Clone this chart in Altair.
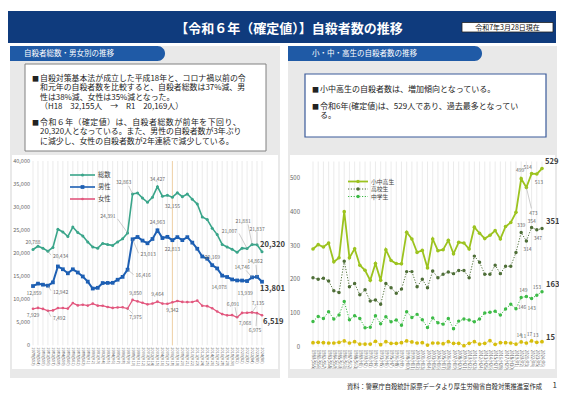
import altair as alt
import pandas as pd

FONT = "Noto Sans CJK JP"
W, H = 551, 382

# ---------------- data (left: 自殺者総数・男女別) ----------------
years_all = list(range(1978, 2025))
total = [20788, 21503, 21048, 20434, 21228, 25202, 24596, 23599, 25667, 24460,
         23742, 22436, 21346, 21084, 22104, 21851, 21679, 22445, 23104, 24391,
         32863, 33048, 31957, 31042, 32143, 34427, 32325, 32552, 32155, 33093,
         32249, 32845, 31690, 30651, 27858, 27283, 25427, 24025, 21897, 21321,
         20840, 20169, 21081, 21007, 21881, 21837, 20320]
male = [12859, 13386, 13155, 12942, 13654, 17116, 16508, 15624, 16497, 15802,
        14934, 13818, 12316, 12477, 13516, 13540, 13560, 14231, 14853, 16416,
        23013, 23512, 22727, 22144, 23080, 24963, 23272, 23540, 22813, 23478,
        22831, 23472, 22283, 20955, 19273, 18787, 17386, 16681, 15121, 14826,
        14290, 14078, 14055, 13939, 14746, 14862, 13801]
female = [7929, 8117, 7893, 7492, 7574, 8086, 8088, 7975, 9170, 8658,
          8808, 8618, 9030, 8607, 8588, 8311, 8119, 8214, 8251, 7975,
          9850, 9536, 9230, 8898, 9063, 9464, 9053, 9012, 9342, 9615,
          9418, 9373, 9407, 9696, 8585, 8496, 8041, 7344, 6776, 6495,
          6550, 6091, 7026, 7068, 7135, 6975, 6519]
yticks_left = [0, 5000, 10000, 15000, 20000, 25000, 30000, 35000, 40000]

# ---------------- data (right: 小・中・高生) ----------------
years_stu = list(range(1980, 2025))
stu_total = [290, 303, 296, 308, 252, 264, 401, 264, 291, 242,
             227, 197, 247, 197, 288, 256, 247, 246, 340, 320,
             280, 286, 234, 320, 285, 288, 316, 276, 310, 308,
             290, 355, 337, 321, 331, 345, 320, 357, 369, 399,
             499, 473, 514, 513, 529]
stu_high = [205, 200, 203, 195, 166, 161, 254, 178, 188, 154,
            169, 136, 139, 126, 188, 175, 159, 171, 223, 223,
            178, 200, 175, 225, 205, 215, 222, 217, 226, 226,
            205, 269, 251, 215, 215, 242, 217, 239, 239, 280,
            339, 314, 354, 347, 351]
stu_middle = [75, 90, 84, 104, 82, 94, 134, 80, 92, 84,
              56, 58, 92, 68, 89, 74, 79, 64, 104, 87,
              96, 80, 57, 85, 71, 67, 84, 53, 76, 82,
              79, 74, 82, 100, 102, 105, 94, 112, 126, 113,
              146, 149, 143, 153, 163]
stu_elem = [12, 13, 12, 11, 11, 13, 17, 11, 15, 8,
            8, 8, 16, 6, 15, 10, 10, 12, 17, 14,
            11, 12, 5, 11, 11, 9, 15, 10, 10, 3,
            10, 15, 8, 10, 18, 7, 12, 12, 11, 8,
            14, 11, 17, 13, 15]
yticks_right = [0, 100, 200, 300, 400, 500]


def era_label(y):
    if y < 1989:
        return f"{y}(S{y - 1925})"
    if y < 2019:
        return f"{y}(H{y - 1988})"
    return f"{y}(R{y - 2018})"


xlabels_all = [era_label(y) for y in years_all]
xlabels_stu = [era_label(y) for y in years_stu]

left_series = ["総数", "男性", "女性"]
right_series = ["小中高生", "高校生", "中学生", "小学生"]

dfL = pd.DataFrame({
    "year": years_all * 3,
    "series": sum([[s] * len(years_all) for s in left_series], []),
    "value": total + male + female,
})
dfR = pd.DataFrame({
    "year": years_stu * 4,
    "series": sum([[s] * len(years_stu) for s in right_series], []),
    "value": stu_total + stu_high + stu_middle + stu_elem,
})

dummy = pd.DataFrame({"d": [0]})


def rect(x1, y1, x2, y2, **kw):
    return alt.Chart(dummy).mark_rect(**kw).encode(
        x=alt.value(x1), x2=alt.value(x2), y=alt.value(y1), y2=alt.value(y2))


def txt(x, y, s, size=8, color="#222", weight="normal", align="left", baseline="middle"):
    return alt.Chart(dummy).mark_text(
        text=s, font=FONT, fontSize=size, color=color, fontWeight=weight,
        align=align, baseline=baseline).encode(x=alt.value(x), y=alt.value(y))


def hline(x1, x2, y, color, width=1.0, dash=None):
    kw = dict(color=color, strokeWidth=width)
    if dash:
        kw["strokeDash"] = dash
    return alt.Chart(dummy).mark_rule(**kw).encode(
        x=alt.value(x1), x2=alt.value(x2), y=alt.value(y))


def dot(x, y, color, size, shape="circle"):
    return alt.Chart(dummy).mark_point(
        filled=True, color=color, size=size, shape=shape, opacity=1).encode(
        x=alt.value(x), y=alt.value(y))


def chart_group(df, years, xlabels, yticks, xs, ys, styles, annots, ytop, ybot,
                lab_size, lab_pad, ylab_x, ylab_size, hl=None):
    def X():
        return alt.X("year:Q", scale=xs, axis=None)

    def Y(field="value"):
        return alt.Y(f"{field}:Q", scale=ys, axis=None)

    layers = []
    gdf = pd.DataFrame({"year": years, "label": xlabels})
    # vertical grid lines at every year
    layers.append(alt.Chart(gdf).mark_rule(color="#e3e3e3", strokeWidth=0.7).encode(
        x=X(), y=alt.value(ytop), y2=alt.value(ybot)))
    # x tick labels (vertical text)
    layers.append(alt.Chart(gdf).mark_text(
        angle=90, align="left", baseline="middle", font=FONT, fontSize=lab_size,
        color="#666").encode(x=X(), y=alt.value(ybot + lab_pad), text="label:N"))
    # y tick labels
    tdf = pd.DataFrame({"value": yticks})
    layers.append(alt.Chart(tdf).mark_text(
        align="right", baseline="middle", font=FONT, fontSize=ylab_size, color="#666").encode(
        x=alt.value(ylab_x), y=Y(), text=alt.Text("value:Q", format=",")))
    if hl is not None:
        layers.append(alt.Chart(gdf).transform_filter(f"datum.year == {hl}").mark_rule(
            color="#f1d3a8", strokeWidth=1).encode(x=X(), y=alt.value(ytop), y2=alt.value(ybot)))
    for st in styles:
        base = alt.Chart(df).transform_filter(f"datum.series == '{st['series']}'")
        lkw = dict(color=st["color"], strokeWidth=st["width"])
        if st.get("dash"):
            lkw["strokeDash"] = st["dash"]
        layers.append(base.mark_line(**lkw).encode(x=X(), y=Y()))
        layers.append(base.mark_point(filled=True, opacity=1, color=st["color"],
                                      shape=st["shape"], size=st["size"]).encode(x=X(), y=Y()))
    for a in annots:
        series, year, dx, dy, align, lead, big = a
        base = alt.Chart(df).transform_filter(
            f"datum.series == '{series}' && datum.year == {year}")
        if lead is not None:
            layers.append(base.mark_rule(color="#9a9a9a", strokeWidth=0.5,
                                         x2Offset=lead[0], y2Offset=lead[1]).encode(
                x=X(), y=Y(), x2="year:Q", y2="value:Q"))
        layers.append(base.mark_text(
            dx=dx, dy=dy, align=align, baseline="middle", font=FONT,
            fontSize=7.6 if big else 5, fontWeight="bold" if big else "normal",
            color="#3c3c3c" if big else "#6a6a6a").encode(
            x=X(), y=Y(), text=alt.Text("value:Q", format=",")))
    return alt.layer(*layers)


# ---------------- left chart ----------------
C_TOT, C_MALE, C_FEM = "#3aa58a", "#1d5fb3", "#e2577e"
xsL = alt.Scale(domain=[1978, 2024], range=[25, 254], nice=False, zero=False)
ysL = alt.Scale(domain=[0, 40000], range=[337.3, 153], nice=False)
stylesL = [
    dict(series="総数", color=C_TOT, width=1.6, shape="circle", size=9),
    dict(series="男性", color=C_MALE, width=2.0, shape="square", size=14),
    dict(series="女性", color=C_FEM, width=1.3, shape="circle", size=7),
]
annL = [
    ("総数", 1978, 0, -8, "center", None, False),
    ("総数", 1981, 5, 5, "left", (3, 4), False),
    ("総数", 1997, -12, -17, "right", (-10, -14), False),
    ("総数", 1998, -9, -12, "center", (-4, -8), False),
    ("総数", 2003, 0, -8, "center", None, False),
    ("総数", 2006, 0, 9, "center", None, False),
    ("総数", 2019, -17, 5, "right", None, False),
    ("総数", 2021, -10, -18, "right", (-8, -15), False),
    ("総数", 2022, -9, -23, "center", (-4, -20), False),
    ("総数", 2023, 0, -16, "center", (0, -13), False),
    ("総数", 2024, -2, -7, "left", None, True),
    ("男性", 1978, 1, 7, "center", None, False),
    ("男性", 1981, 5, 6, "left", (3, 5), False),
    ("男性", 1997, 8, 5, "left", (6, 5), False),
    ("男性", 1998, 8, 15, "left", (6, 14), False),
    ("男性", 2003, 0, -8, "center", None, False),
    ("男性", 2006, 0, 9, "center", None, False),
    ("男性", 2019, -18, 7, "center", None, False),
    ("男性", 2021, -2, 12, "center", None, False),
    ("男性", 2022, -10, -10, "center", (-6, -7), False),
    ("男性", 2023, -2, -16, "center", (-1, -12), False),
    ("男性", 2024, -2, 7, "left", None, True),
    ("女性", 1978, 0, 6, "center", None, False),
    ("女性", 1981, 5, 7, "left", (3, 6), False),
    ("女性", 1997, 8, 8, "center", (5, 5), False),
    ("女性", 1998, 3, -7, "center", None, False),
    ("女性", 2003, 0, -8, "center", None, False),
    ("女性", 2006, 0, 8, "center", None, False),
    ("女性", 2019, -4, -13, "center", (-2, -10), False),
    ("女性", 2021, -2, 10, "center", None, False),
    ("女性", 2022, 6, -9, "center", (4, -6), False),
    ("女性", 2023, -2, 17, "center", (-1, 13), False),
    ("女性", 2024, 1, 7, "left", None, True),
]
left = chart_group(dfL, years_all, xlabels_all, yticks_left, xsL, ysL, stylesL, annL,
                   153, 337.3, 4.0, 2, 22, 5.5, hl=2006)

# ---------------- right chart ----------------
C_STU, C_HIGH, C_MID, C_ELEM = "#9cc31f", "#4e6e37", "#3dbb47", "#d6bd0c"
xsR = alt.Scale(domain=[1980, 2024], range=[305, 534], nice=False, zero=False)
ysR = alt.Scale(domain=[0, 550], range=[338.7, 153.5], nice=False)
stylesR = [
    dict(series="高校生", color=C_HIGH, width=1.0, dash=[1.2, 1.6], shape="circle", size=12),
    dict(series="中学生", color=C_MID, width=1.0, dash=[1.2, 1.6], shape="circle", size=12),
    dict(series="小学生", color=C_ELEM, width=0.8, dash=[1.2, 1.6], shape="circle", size=14),
    dict(series="小中高生", color=C_STU, width=1.8, shape="circle", size=13),
]
annR = [
    ("小中高生", 2020, -1, -9, "center", None, False),
    ("小中高生", 2021, 7, 26, "center", (5, 21), False),
    ("小中高生", 2022, -4, -7, "center", None, False),
    ("小中高生", 2023, 2, 8, "center", None, False),
    ("小中高生", 2024, 3, -7, "left", None, True),
    ("高校生", 2020, 0, -8, "center", None, False),
    ("高校生", 2021, 1, 8, "center", None, False),
    ("高校生", 2022, 0, -6, "center", None, False),
    ("高校生", 2023, 1, 8, "center", None, False),
    ("高校生", 2024, 4, -7, "left", None, True),
    ("中学生", 2020, 1, 9, "center", None, False),
    ("中学生", 2021, -3, -7, "center", None, False),
    ("中学生", 2022, 0, 9, "center", None, False),
    ("中学生", 2023, 0, -8, "center", None, False),
    ("中学生", 2024, 4, -7, "left", None, True),
    ("小学生", 2020, -2, -7, "center", None, False),
    ("小学生", 2021, -3, -7, "center", None, False),
    ("小学生", 2022, -2, -7, "center", None, False),
    ("小学生", 2023, -1, -7, "center", None, False),
    ("小学生", 2024, 4, -4, "left", None, True),
]
right = chart_group(dfR, years_stu, xlabels_stu, yticks_right, xsR, ysR, stylesR, annR,
                    153.5, 338.7, 4.3, 3, 292, 6)

# ---------------- decorations ----------------
NAVY, TAB, PANEL = "#0f3b7d", "#1f5aa6", "#e9e9e9"
deco = [
    rect(0, 3, 548, 35, fill=NAVY),
    txt(281, 21, "【令和６年（確定値）】自殺者数の推移", size=13, color="white", weight="bold", align="center"),
    rect(454, 14.5, 545, 24, fill="white", stroke="#222", strokeWidth=0.8),
    txt(499.5, 19.5, "令和7年3月28日現在", size=7, color="#111", align="center"),
    rect(2, 38, 272, 370, fill=PANEL),
    rect(280, 38, 549, 370, fill=PANEL),
    rect(2, 38, 157, 53, fill=TAB, cornerRadiusTopRight=8, cornerRadiusBottomRight=8),
    txt(16, 45.5, "自殺者総数・男女別の推移", size=7.5, color="white"),
    rect(280, 38, 474, 53, fill=TAB, cornerRadiusTopRight=8, cornerRadiusBottomRight=8),
    txt(304, 45.5, "小・中・高生の自殺者数の推移", size=7.5, color="white"),
    # text boxes
    rect(17, 56, 258, 143, fill="white", stroke="#808080", strokeWidth=1),
    rect(297, 66, 538, 129, fill="white", stroke="#3a5a9a", strokeWidth=1.2),
    # chart areas
    rect(4, 147, 270, 361, fill="white"),
    rect(282, 147, 547, 361, fill="white"),
]
HS = "\u200a"
box_left = [
    (70.8, "自殺対策基本法が成立した平成18年と、コロナ禍以前の令", True),
    (80.2, "和元年の自殺者数を比較すると、自殺者総数は37%減、男", False),
    (89.6, "性は38%減、女性は35%減となった。", False),
    (99.4, "（H18　32,155人　→　R1　20,169人）", False),
    (114.8, HS.join("令和６年（確定値）は、自殺者総数が前年を下回り、"), True),
    (124.3, "20,320人となっている。また、男性の自殺者数が3年ぶり", False),
    (133.8, "に減少し、女性の自殺者数が2年連続で減少している。", False),
]
for y, s, bullet in box_left:
    if bullet:
        deco.append(txt(24, y, "■", size=7, color="#222"))
    deco.append(txt(32, y, s, size=7.9, color="#222"))
box_right = [
    (82, "小中高生の自殺者数は、増加傾向となっている。", True),
    (98.5, "令和6年(確定値)は、529人であり、過去最多となってい", True),
    (108, "る。", False),
]
for y, s, bullet in box_right:
    if bullet:
        deco.append(txt(304, y, "■", size=7, color="#222"))
    deco.append(txt(312, y, s, size=8.0, color="#222"))

# legends
legend = []
for yy, lab, col, shp, sz in [(167, "総数", C_TOT, "circle", 9), (179, "男性", C_MALE, "square", 14),
                             (191, "女性", C_FEM, "circle", 7)]:
    legend += [hline(62, 87, yy, col, 1.6), dot(74.5, yy, col, sz, shp),
               txt(90, yy, lab, size=6.3, color="#444")]
for yy, lab, col, dash, w in [(173.5, "小中高生", C_STU, None, 1.8),
                              (181, "高校生", C_HIGH, [1.2, 1.6], 1.0),
                              (188.5, "中学生", C_MID, [1.2, 1.6], 1.0)]:
    legend += [hline(340, 360, yy, col, w, dash), dot(350, yy, col, 12),
               txt(363, yy, lab, size=5.8, color="#444")]

footer = [
    txt(534, 379, "資料：警察庁自殺統計原票データより厚生労働省自殺対策推進室作成", size=6.3,
        color="#222", align="right"),
    txt(549, 378, "1", size=8, color="#333", align="right"),
]

chart = alt.layer(*deco, left, right, *legend, *footer).resolve_scale(
    x="independent", y="independent").properties(
    width=W, height=H, padding=0, autosize=alt.AutoSizeParams(type="none"),
    background="white").configure_view(stroke=None)

chart.save("out.html", embed_options={"renderer": "svg", "actions": False})
